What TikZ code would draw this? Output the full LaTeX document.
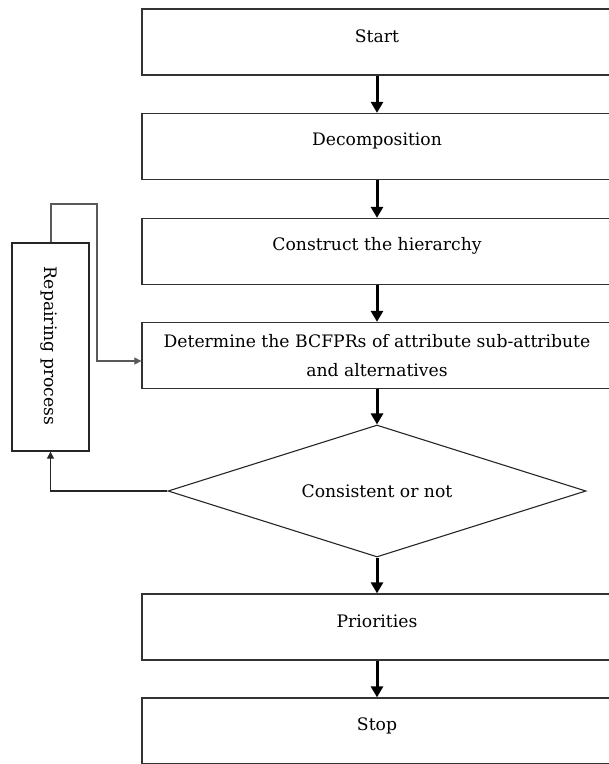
\documentclass[tikz,border=0pt]{standalone}
\usepackage{fontspec}
\setmainfont{DejaVu Serif}
\usetikzlibrary{shapes.geometric,arrows.meta}
\begin{document}
\begin{tikzpicture}[x=1pt,y=1pt,
  stepbox/.style={draw=black!80,line width=1.3pt,rectangle,minimum width=470pt,minimum height=66pt,inner sep=0pt},
  boxtext/.style={font=\fontsize{17.2}{29}\selectfont,align=center},
  flow/.style={line width=3pt,black,-{Triangle[width=12pt,length=11pt]}},
  loop/.style={line width=1.2pt,black!65,-{Triangle[width=7pt,length=7pt]}},
  back/.style={line width=1.2pt,black!85,-{Triangle[width=7pt,length=7pt]}}]
\useasboundingbox (0,0) rectangle (609,-764);
\node[stepbox,label={[boxtext,yshift=6pt]center:Start}] (start) at (377,-42) {};
\node[stepbox,label={[boxtext,yshift=6pt]center:Decomposition}] (dec) at (377,-146.5) {};
\node[stepbox,label={[boxtext,yshift=6pt]center:Construct the hierarchy}] (con) at (377,-251.5) {};
\node[stepbox,boxtext] (det) at (377,-355.5) {Determine the BCFPRs of attribute sub-attribute\\and alternatives};
\node[draw=black!85,line width=1.1pt,diamond,minimum width=418pt,minimum height=132pt,inner sep=0pt,label={[boxtext]center:Consistent or not}] (cons) at (377,-491) {};
\node[stepbox,label={[boxtext,yshift=6pt]center:Priorities}] (pri) at (377,-627) {};
\node[stepbox,label={[boxtext,yshift=5pt]center:Stop}] (stop) at (377,-731) {};
\node[draw=black!85,line width=1.3pt,rectangle,minimum width=77pt,minimum height=208pt,inner sep=0pt] (rep) at (50.5,-347) {};
\node[boxtext,rotate=-90] (reptext) at (49,-346) {Repairing process};
\draw[flow] (start.south) -- (dec.north);
\draw[flow] (dec.south) -- (con.north);
\draw[flow] (con.south) -- (det.north);
\draw[flow] (det.south) -- (cons.north);
\draw[flow] (cons.south) -- (pri.north);
\draw[flow] (pri.south) -- (stop.north);
\coordinate (l1) at (51,-204);
\coordinate (l2) at (97,-204);
\coordinate (l3) at (97,-361);
\draw[loop] (rep.north -| l1) -- (l1) -- (l2) -- (l3) -- (l3 -| det.west);
\draw[back] (cons.west) -- (cons.west -| rep.south) -- (rep.south);
\end{tikzpicture}
\end{document}
